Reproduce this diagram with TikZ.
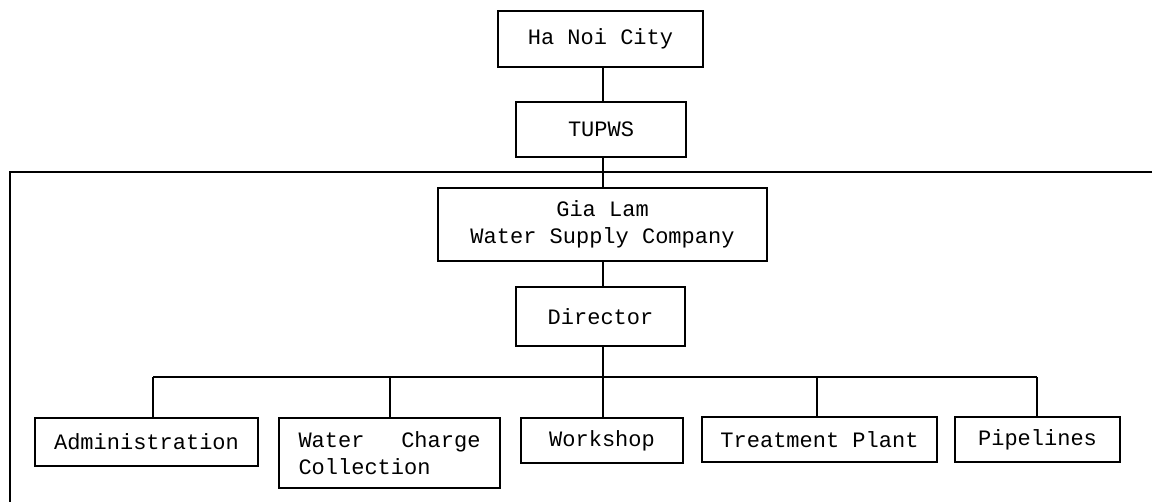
\documentclass[tikz,border=0pt]{standalone}
\usepackage{fontspec}
\setmainfont{Liberation Mono}
\begin{document}
\begin{tikzpicture}[x=1pt,y=-1pt,
  box/.style={draw,line width=1.2pt,inner sep=0pt,outer sep=0pt,align=center,
    font=\fontsize{22}{27}\selectfont},
  link/.style={line width=1.2pt}]
\useasboundingbox (0,0) rectangle (1155,502);
% frame
\draw[link] (1152,172) -- (10,172) -- (10,502);
% nodes
\node[box,minimum width=205pt,minimum height=56pt] (hanoi) at (600.5,39) {Ha Noi City};
\node[box,minimum width=170pt,minimum height=55pt] (tupws) at (601,129.5) {TUPWS};
\node[box,minimum width=329pt,minimum height=73pt] (gialam) at (602.5,224.5) {Gia Lam\\Water Supply Company};
\node[box,minimum width=169pt,minimum height=59pt] (dir) at (600.5,316.5) {Director};
\node[box,minimum width=223pt,minimum height=48pt] (admin) at (146.5,442) {Administration};
\node[box,minimum width=221pt,minimum height=70pt] (water) at (389.5,453) {\hbox to 182pt{Water\hfill Charge}\\\hbox to 182pt{Collection\hfill}};
\node[box,minimum width=162pt,minimum height=45pt] (workshop) at (602,440.5) {Workshop};
\node[box,minimum width=235pt,minimum height=45pt] (treat) at (819.5,439.5) {Treatment Plant};
\node[box,minimum width=165pt,minimum height=45pt] (pipe) at (1037.5,439.5) {Pipelines};
% spine and bus
\coordinate (spine) at (603,0);
\coordinate (b1) at (153,377);
\coordinate (b2) at (390,377);
\coordinate (b3) at (603,377);
\coordinate (b4) at (817,377);
\coordinate (b5) at (1037,377);
\draw[link] (spine |- hanoi.south) -- (spine |- tupws.north);
\draw[link] (spine |- tupws.south) -- (spine |- gialam.north);
\draw[link] (spine |- gialam.south) -- (spine |- dir.north);
\draw[link] (spine |- dir.south) -- (b3);
\draw[link] (b1) -- (b5);
\draw[link] (b1) -- (b1 |- admin.north);
\draw[link] (b2) -- (b2 |- water.north);
\draw[link] (b3) -- (b3 |- workshop.north);
\draw[link] (b4) -- (b4 |- treat.north);
\draw[link] (b5) -- (b5 |- pipe.north);
\end{tikzpicture}
\end{document}
